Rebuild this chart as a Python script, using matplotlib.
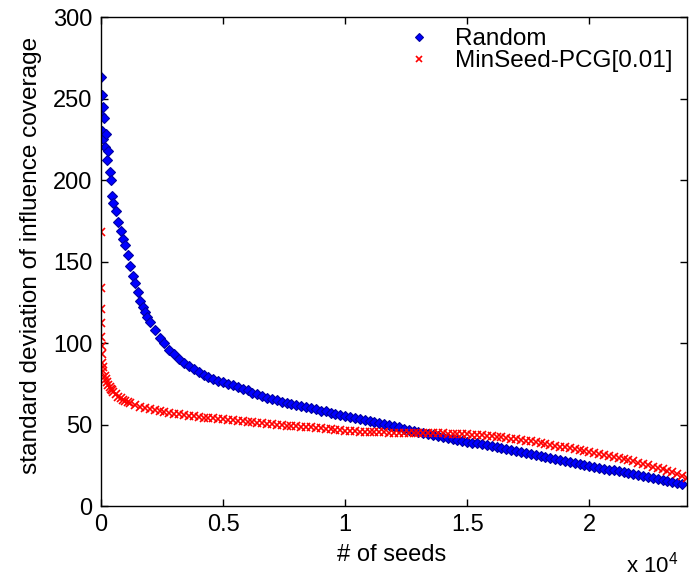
import numpy as np
import matplotlib.pyplot as plt

plt.rcParams['font.family'] = ['Liberation Sans', 'DejaVu Sans']

# ------ data ------
rand_x = [0, 20, 40, 60, 80, 100, 130, 160, 200, 250, 300, 350, 400, 450, 500,
          600, 700, 800, 900, 1000, 1100, 1200, 1300, 1400, 1500, 1600, 1700,
          1800, 1900, 2000, 2200, 2400, 2600, 2800, 3000, 3200, 3400, 3600,
          3800, 4000, 4200, 4400, 4600, 4800, 5000, 5200, 5400, 5600, 5800,
          6000, 6200, 6400, 6600, 6800, 7000, 7200, 7400, 7600, 7800, 8000,
          8200, 8400, 8600, 8800, 9000, 9200, 9400, 9600, 9800, 10000, 10200,
          10400, 10600, 10800, 11000, 11200, 11400, 11600, 11800, 12000, 12200,
          12400, 12600, 12800, 13000, 13200, 13400, 13600, 13800, 14000, 14200,
          14400, 14600, 14800, 15000, 15200, 15400, 15600, 15800, 16000, 16200,
          16400, 16600, 16800, 17000, 17200, 17400, 17600, 17800, 18000, 18200,
          18400, 18600, 18800, 19000, 19200, 19400, 19600, 19800, 20000, 20200,
          20400, 20600, 20800, 21000, 21200, 21400, 21600, 21800, 22000, 22200,
          22400, 22600, 22800, 23000, 23200, 23400, 23600, 23800]
rand_y = [263, 240, 252, 230, 245, 225, 238, 220, 228, 212, 218, 205, 200, 190, 186,
          181, 174, 169, 164, 160, 154, 147, 141, 137, 131, 126, 122,
          119, 116, 113, 108, 103, 100, 96, 93, 90, 88, 86,
          84, 82, 80.5, 79, 78, 77, 76, 75, 74, 73, 72,
          71, 69.5, 68.5, 67.5, 66.5, 65.5, 64.8, 64, 63.3, 62.6, 62,
          61.3, 60.7, 60, 59.3, 58.6, 58, 57.3, 56.6, 55.8, 55.2, 54.6,
          54, 53.4, 52.8, 52.2, 51.6, 51, 50.3, 49.6, 48.9, 48.2,
          47.5, 46.8, 46.1, 45.4, 44.7, 44, 43.3, 42.7, 42.1, 41.5,
          40.9, 40.4, 39.9, 39.4, 38.9, 38.4, 37.8, 37.2, 36.6, 36,
          35.4, 34.8, 34.2, 33.6, 33, 32.4, 31.8, 31.3, 30.8, 30.2,
          29.6, 29, 28.4, 27.8, 27.2, 26.6, 26, 25.4, 24.8, 24.2,
          23.6, 23, 22.4, 21.8, 21.2, 20.6, 20, 19.4, 18.8, 18.2,
          17.6, 17, 16.4, 15.8, 15.2, 14.6, 14, 13.4]

pcg_x = [0, 5, 10, 15, 20, 30, 40, 60, 80, 100, 150, 200, 250, 300, 350, 400,
         450, 500, 600, 700, 800, 900, 1000, 1100, 1200, 1400, 1600, 1800,
         2000, 2200, 2400, 2600, 2800, 3000, 3200, 3400, 3600, 3800, 4000,
         4200, 4400, 4600, 4800, 5000, 5200, 5400, 5600, 5800, 6000, 6200,
         6400, 6600, 6800, 7000, 7200, 7400, 7600, 7800, 8000, 8200, 8400,
         8600, 8800, 9000, 9200, 9400, 9600, 9800, 10000, 10200, 10400, 10600,
         10800, 11000, 11200, 11400, 11600, 11800, 12000, 12200, 12400, 12600,
         12800, 13000, 13200, 13400, 13600, 13800, 14000, 14200, 14400, 14600,
         14800, 15000, 15200, 15400, 15600, 15800, 16000, 16200, 16400, 16600,
         16800, 17000, 17200, 17400, 17600, 17800, 18000, 18200, 18400, 18600,
         18800, 19000, 19200, 19400, 19600, 19800, 20000, 20200, 20400, 20600,
         20800, 21000, 21200, 21400, 21600, 21800, 22000, 22200, 22400, 22600,
         22800, 23000, 23200, 23400, 23600, 23800, 24000]
pcg_y = [168, 134, 121, 112, 104, 98, 93, 88, 85, 83, 80, 78, 76, 74.5, 73, 72,
         71, 70, 68.5, 67, 66, 65, 64.5, 64, 63.3, 62, 61, 60.2,
         59.5, 58.8, 58.2, 57.7, 57.2, 56.7, 56.2, 55.8, 55.4, 55, 54.6,
         54.3, 54, 53.7, 53.4, 53.1, 52.8, 52.5, 52.2, 52, 51.7, 51.5,
         51.2, 50.9, 50.6, 50.3, 50, 49.7, 49.4, 49.1, 48.9, 48.7, 48.5,
         48.3, 48.1, 47.8, 47.5, 47.2, 46.9, 46.6, 46.3, 46.1, 45.9, 45.7,
         45.6, 45.5, 45.4, 45.3, 45.2, 45.1, 45, 44.9, 44.9, 44.8,
         44.8, 44.7, 44.7, 44.6, 44.6, 44.5, 44.5, 44.4, 44.3, 44.2,
         44.1, 44, 43.8, 43.6, 43.3, 43, 42.7, 42.4, 42.1, 41.8,
         41.4, 41, 40.6, 40.1, 39.6, 39.1, 38.6, 38.1, 37.6, 37.1,
         36.5, 36, 35.4, 34.8, 34.3, 33.7, 33.2, 32.6, 32, 31.4,
         30.8, 30.2, 29.5, 28.8, 28.1, 27.4, 26.6, 25.8, 25, 24.2,
         23.4, 22.6, 21.7, 20.7, 19.6, 18.4, 17]

xtick_vals = [0, 5000, 10000, 15000, 20000]
xtick_labels = ['0', '0.5', '1', '1.5', '2']
ytick_vals = [0, 50, 100, 150, 200, 250, 300]

# ------ figure ------
fig = plt.figure(figsize=(6.89, 5.77), dpi=100)
ax = fig.add_axes([0.1466, 0.123, 0.8505, 0.8475])

ax.plot(rand_x, rand_y, ls='none', marker='D', ms=5.4, color='#0000ff',
        mec='#0000a0', mew=0.8, label='Random')
ax.plot(pcg_x, pcg_y, ls='none', marker='x', ms=6, color='#ff0000',
        mew=1.2, label='MinSeed-PCG[0.01]')

ax.set_xlim(0, 24000)
ax.set_ylim(0, 300)
ax.set_xticks(xtick_vals)
ax.set_xticklabels(xtick_labels)
ax.set_yticks(ytick_vals)
ax.tick_params(direction='in', top=True, right=True, length=5, width=1,
               labelsize=17, pad=6)
for s in ax.spines.values():
    s.set_linewidth(1)

ax.set_xlabel('# of seeds', fontsize=17)
ax.xaxis.set_label_coords(0.4966, -0.078)
ax.set_ylabel('standard deviation of influence coverage', fontsize=17.6)
ax.yaxis.set_label_coords(-0.1, 0.513)
fig.text(0.984, 0.008, 'x 10$\\mathregular{^4}$', ha='right', va='baseline',
         fontsize=16)

leg = ax.legend(loc='upper right', frameon=False, fontsize=17.5,
                bbox_to_anchor=(1.012, 1.022), handlelength=1.0, handletextpad=0.95,
                labelspacing=0.0, markerscale=0.8)

fig.savefig('out.png', dpi=100)
